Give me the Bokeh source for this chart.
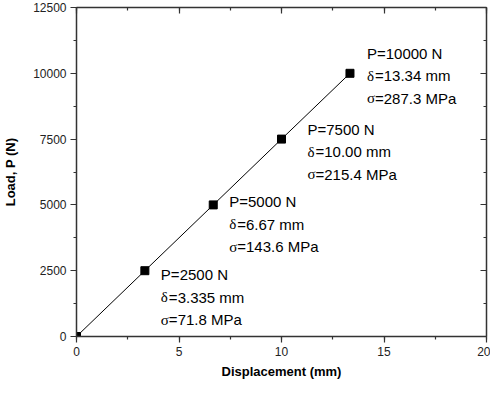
from bokeh.plotting import figure
from bokeh.models import (ColumnDataSource, LinearAxis, SingleIntervalTicker, Range1d,
                          CustomLabelingPolicy)
from bokeh.core.properties import value
from bokeh.embed import file_html
from bokeh.resources import INLINE

# data
displacement = [0, 3.335, 6.67, 10.00, 13.34]
load = [0, 2500, 5000, 7500, 10000]
p_text = ["P=2500 N", "P=5000 N", "P=7500 N", "P=10000 N"]
d_sym = ["\u03b4", "\u03b4", "\u03b4", "\u03b4"]
d_text = ["=3.335 mm", "=6.67 mm", "=10.00 mm", "=13.34 mm"]
s_sym = ["\u03c3", "\u03c3", "\u03c3", "\u03c3"]
s_text = ["=71.8 MPa", "=143.6 MPa", "=215.4 MPa", "=287.3 MPa"]

# label placement (screen px)
lab_dx = [16, 16, 26, 17]
lab_dy = [4, -3, -10, -20]
LINE = 22.5
GREEK_W = 8

FONT = "Liberation Sans"
SERIF = "Liberation Serif"

p = figure(width=490, height=385, output_backend="svg", toolbar_location=None,
           x_range=Range1d(0, 20), y_range=Range1d(0, 12500),
           min_border_left=75, min_border_right=4, min_border_top=7, min_border_bottom=49,
           x_axis_location=None, y_axis_location=None)
p.grid.visible = False
p.outline_line_color = None
p.background_fill_color = "white"
p.border_fill_color = "white"

no_labels = CustomLabelingPolicy(code="""
for (const i of indices)
    indices.unset(i)
""")

def style_axis(ax, show_labels):
    ax.axis_line_color = "#333333"
    ax.axis_line_width = 1.5
    ax.major_tick_line_color = "#333333"
    ax.minor_tick_line_color = "#333333"
    ax.major_tick_line_width = 1.2
    ax.minor_tick_line_width = 1.2
    ax.major_label_text_font = FONT
    ax.major_label_text_font_size = "12px"
    ax.major_label_text_color = "#222222"
    ax.axis_label_text_font = FONT
    ax.axis_label_text_font_style = "bold"
    ax.axis_label_text_font_size = "13px"
    ax.axis_label_text_color = "black"
    if not show_labels:
        ax.major_label_policy = no_labels
        ax.major_label_text_font_size = "0px"

xt = SingleIntervalTicker(interval=5, num_minor_ticks=2)
yt = SingleIntervalTicker(interval=2500, num_minor_ticks=2)

xb = LinearAxis(ticker=xt, axis_label="Displacement (mm)")
style_axis(xb, True)
xb.major_tick_in = 0; xb.major_tick_out = 6
xb.minor_tick_in = 0; xb.minor_tick_out = 3
xb.major_label_standoff = 4
xb.axis_label_standoff = 5
p.add_layout(xb, "below")

yl = LinearAxis(ticker=yt, axis_label="Load, P (N)")
style_axis(yl, True)
yl.major_tick_in = 0; yl.major_tick_out = 6
yl.minor_tick_in = 0; yl.minor_tick_out = 3
yl.major_label_standoff = 4
yl.axis_label_standoff = 12
p.add_layout(yl, "left")

xt2 = LinearAxis(ticker=xt)
style_axis(xt2, False)
xt2.major_tick_in = 6; xt2.major_tick_out = 0
xt2.minor_tick_in = 3; xt2.minor_tick_out = 0
xt2.major_label_standoff = 0
p.add_layout(xt2, "above")

yr = LinearAxis(ticker=yt)
style_axis(yr, False)
yr.major_tick_in = 6; yr.major_tick_out = 0
yr.minor_tick_in = 3; yr.minor_tick_out = 0
yr.major_label_standoff = 0
p.add_layout(yr, "right")

src = ColumnDataSource(dict(x=displacement, y=load))
p.line("x", "y", source=src, line_color="black", line_width=1)
p.scatter("x", "y", source=src, marker="square", size=8, fill_color="black", line_color="black")

lx = displacement[1:]
ly = load[1:]

def add_text(texts, row, extra_dx, font):
    ls = ColumnDataSource(dict(x=lx, y=ly, t=texts,
                               dx=[d + extra_dx for d in lab_dx],
                               dy=[d + row * LINE for d in lab_dy]))
    p.text("x", "y", text="t", source=ls, x_offset="dx", y_offset="dy",
           text_font=value(font), text_font_size="15px", text_color="black",
           text_align="left", text_baseline="middle")

add_text(p_text, 0, 0, FONT)
add_text(d_sym, 1, 0, SERIF)
add_text(d_text, 1, GREEK_W, FONT)
add_text(s_sym, 2, 0, SERIF)
add_text(s_text, 2, GREEK_W, FONT)

open("out.html", "w").write(file_html(p, INLINE))
